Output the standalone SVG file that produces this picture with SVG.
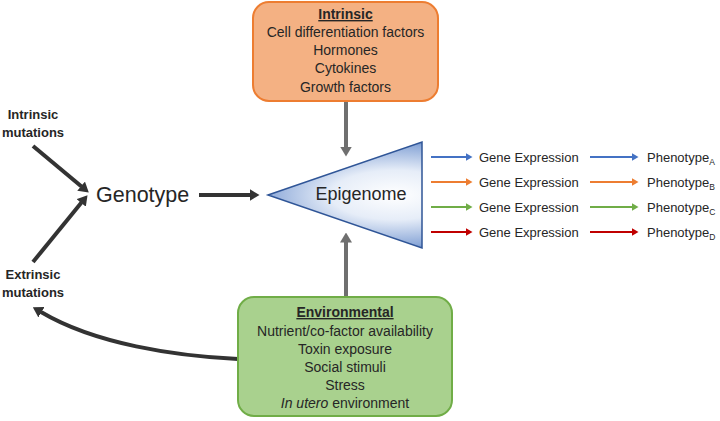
<svg xmlns="http://www.w3.org/2000/svg" width="720" height="421" viewBox="0 0 720 421">
<style>
text{font-family:"Liberation Sans",Arial,sans-serif;fill:#262626}
.box{font-size:14px;text-anchor:middle}
.hd{font-weight:bold;text-decoration:underline}
.mut{font-size:13px;font-weight:bold;text-anchor:middle}
.ge{font-size:13px}
.sub{font-size:8.5px}
.gray{stroke:#6f6f6f;stroke-width:4;fill:none}
.dark{stroke:#333333;stroke-width:4;fill:none}
.thin{stroke-width:2;fill:none}
</style>
<defs>
<radialGradient id="epg" gradientUnits="userSpaceOnUse" cx="395" cy="195" r="1" gradientTransform="translate(395 195) scale(160 62) translate(-395 -195)">
<stop offset="0" stop-color="#ffffff"/>
<stop offset="0.4" stop-color="#e6edf8"/>
<stop offset="0.8" stop-color="#8eaad9"/>
<stop offset="1" stop-color="#3a66b0"/>
</radialGradient>
<marker id="hg" markerUnits="userSpaceOnUse" viewBox="0 0 10 12" markerWidth="10" markerHeight="12" refX="0.5" refY="6" orient="auto"><path d="M0,0 L10,6 L0,12 z" fill="#6f6f6f"/></marker>
<marker id="hd" markerUnits="userSpaceOnUse" viewBox="0 0 10 12" markerWidth="10" markerHeight="12" refX="0.5" refY="6" orient="auto"><path d="M0,0 L10,6 L0,12 z" fill="#333333"/></marker>
<marker id="hb" markerUnits="userSpaceOnUse" viewBox="0 0 7 8" markerWidth="7" markerHeight="8" refX="0.5" refY="4" orient="auto"><path d="M0,0 L7,4 L0,8 z" fill="#4472c4"/></marker>
<marker id="ho" markerUnits="userSpaceOnUse" viewBox="0 0 7 8" markerWidth="7" markerHeight="8" refX="0.5" refY="4" orient="auto"><path d="M0,0 L7,4 L0,8 z" fill="#ed7d31"/></marker>
<marker id="hgr" markerUnits="userSpaceOnUse" viewBox="0 0 7 8" markerWidth="7" markerHeight="8" refX="0.5" refY="4" orient="auto"><path d="M0,0 L7,4 L0,8 z" fill="#70ad47"/></marker>
<marker id="hr" markerUnits="userSpaceOnUse" viewBox="0 0 7 8" markerWidth="7" markerHeight="8" refX="0.5" refY="4" orient="auto"><path d="M0,0 L7,4 L0,8 z" fill="#c00000"/></marker>
</defs>

<g id="connectors">
<line class="gray" x1="346" y1="101" x2="346" y2="147" marker-end="url(#hg)"/>
<line class="gray" x1="346" y1="296" x2="346" y2="242" marker-end="url(#hg)"/>
<line class="dark" x1="199" y1="195" x2="250" y2="195" marker-end="url(#hd)"/>
<line class="dark" x1="33" y1="146" x2="81.5" y2="186.5" marker-end="url(#hd)"/>
<line class="dark" x1="33" y1="262" x2="81.5" y2="202.5" marker-end="url(#hd)"/>
<path class="dark" d="M238,359 C175,356 95,344 41,312" marker-end="url(#hd)"/>
<line class="thin" stroke="#4472c4" x1="431" y1="157" x2="466" y2="157" marker-end="url(#hb)"/>
<line class="thin" stroke="#4472c4" x1="590" y1="157" x2="632" y2="157" marker-end="url(#hb)"/>
<line class="thin" stroke="#ed7d31" x1="431" y1="182" x2="466" y2="182" marker-end="url(#ho)"/>
<line class="thin" stroke="#ed7d31" x1="590" y1="182" x2="632" y2="182" marker-end="url(#ho)"/>
<line class="thin" stroke="#70ad47" x1="431" y1="207" x2="466" y2="207" marker-end="url(#hgr)"/>
<line class="thin" stroke="#70ad47" x1="590" y1="207" x2="632" y2="207" marker-end="url(#hgr)"/>
<line class="thin" stroke="#c00000" x1="431" y1="232" x2="466" y2="232" marker-end="url(#hr)"/>
<line class="thin" stroke="#c00000" x1="590" y1="232" x2="632" y2="232" marker-end="url(#hr)"/>
</g>

<g id="intrinsic">
<rect x="253" y="2" width="185" height="99" rx="16" fill="#f4b183" stroke="#ed7d31" stroke-width="2"/>
<text class="box hd" x="345.5" y="19">Intrinsic</text>
<text class="box" x="345.5" y="37">Cell differentiation factors</text>
<text class="box" x="345.5" y="55">Hormones</text>
<text class="box" x="345.5" y="73">Cytokines</text>
<text class="box" x="345.5" y="92">Growth factors</text>
</g>

<g id="environmental">
<rect x="238" y="297" width="214" height="119" rx="16" fill="#a9d18e" stroke="#70ad47" stroke-width="2"/>
<text class="box hd" x="345" y="317">Environmental</text>
<text class="box" x="345" y="336">Nutrient/co-factor availability</text>
<text class="box" x="345" y="354">Toxin exposure</text>
<text class="box" x="345" y="372">Social stimuli</text>
<text class="box" x="345" y="390">Stress</text>
<text class="box" x="345" y="408"><tspan font-style="italic">In utero</tspan> environment</text>
</g>

<g id="intrinsic-mutations">
<text class="mut" x="33" y="119">Intrinsic</text>
<text class="mut" x="33" y="137">mutations</text>
</g>

<g id="extrinsic-mutations">
<text class="mut" x="33" y="279">Extrinsic</text>
<text class="mut" x="33" y="297">mutations</text>
</g>

<g id="genotype">
<text x="96" y="202" font-size="21.5">Genotype</text>
</g>

<g id="epigenome">
<path d="M268,195 L422,142 L422,248 Z" fill="url(#epg)" stroke="#2f5597" stroke-width="1.5"/>
<text x="361" y="200" font-size="18" text-anchor="middle">Epigenome</text>
</g>

<g id="gene-expression-a"><text class="ge" x="479" y="162">Gene Expression</text></g>
<g id="gene-expression-b"><text class="ge" x="479" y="187">Gene Expression</text></g>
<g id="gene-expression-c"><text class="ge" x="479" y="212">Gene Expression</text></g>
<g id="gene-expression-d"><text class="ge" x="479" y="237">Gene Expression</text></g>

<g id="phenotype-a"><text class="ge" x="647" y="162">Phenotype<tspan class="sub" dy="3">A</tspan></text></g>
<g id="phenotype-b"><text class="ge" x="647" y="187">Phenotype<tspan class="sub" dy="3">B</tspan></text></g>
<g id="phenotype-c"><text class="ge" x="647" y="212">Phenotype<tspan class="sub" dy="3">C</tspan></text></g>
<g id="phenotype-d"><text class="ge" x="647" y="237">Phenotype<tspan class="sub" dy="3">D</tspan></text></g>
</svg>
